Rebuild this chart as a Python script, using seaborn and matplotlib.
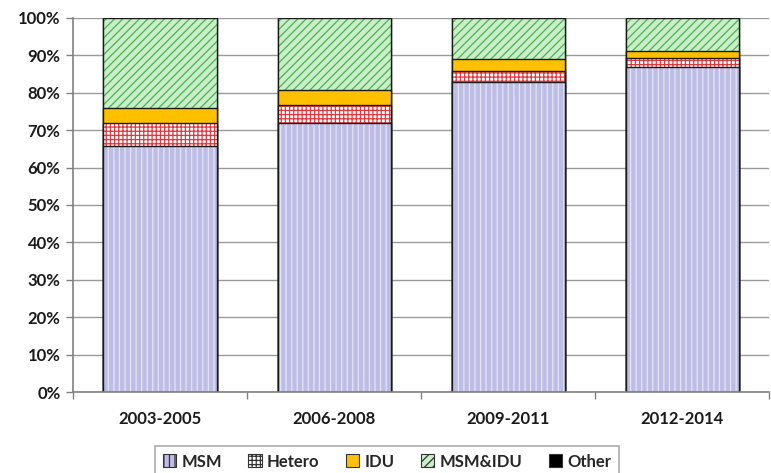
import matplotlib
matplotlib.use("Agg")
import matplotlib.pyplot as plt
from matplotlib.patches import Patch, Rectangle
from matplotlib.ticker import FixedLocator, PercentFormatter
import numpy as np
import pandas as pd
import seaborn as sns

# Datos (porcentajes por periodo)
periods = ["2003-2005", "2006-2008", "2009-2011", "2012-2014"]
msm = [65.7, 72.0, 82.8, 87.0]
hetero = [6.2, 4.8, 3.0, 2.2]
idu = [4.0, 4.0, 3.1, 2.0]
msm_idu = [24.1, 19.2, 11.1, 8.8]
other = [0.0, 0.0, 0.0, 0.0]

groups = ["MSM", "Hetero", "IDU", "MSM&IDU", "Other"]
# (relleno, color de trama, trama)
styles = {
    "MSM": ("#BDBDE6", "#E4E4F6", "|||"),
    "Hetero": ("#FFFFFF", "#E0383C", "++++"),
    "IDU": ("#FFC000", "#FFC000", ""),
    "MSM&IDU": ("#C9EFC9", "#4FAE55", "////"),
    "Other": ("#000000", "#000000", ""),
}

sns.set_theme(style="white")
plt.rcParams["font.family"] = ["Lato", "DejaVu Sans"]
plt.rcParams["font.weight"] = "bold"
plt.rcParams["hatch.linewidth"] = 0.9

df = pd.DataFrame({"period": periods, "MSM": msm, "Hetero": hetero,
                   "IDU": idu, "MSM&IDU": msm_idu, "Other": other})
cum = df[groups].cumsum(axis=1)
cum["period"] = df["period"]

fig = plt.figure(figsize=(7.71, 4.73), dpi=100)
ax = fig.add_axes([0.0947, 0.1712, 0.9033, 0.7908])

# Capas apiladas: de arriba hacia abajo para que cada una tape a la anterior
for g in reversed(groups):
    face, hcol, hatch = styles[g]
    n0 = len(ax.patches)
    sns.barplot(data=cum, x="period", y=g, color=face, saturation=1,
                width=0.65, linewidth=0, edgecolor=hcol, hatch=hatch,
                ax=ax, zorder=2)
    for p in ax.patches[n0:n0 + len(periods)]:
        ax.add_patch(Rectangle(p.get_xy(), p.get_width(), p.get_height(),
                               fill=False, edgecolor="#1a1a1a", linewidth=1.0,
                               zorder=2))

ax.set_xlim(-0.5, 3.5)
ax.set_ylim(0, 100)
ax.yaxis.set_major_locator(FixedLocator(np.arange(0, 101, 10)))
ax.yaxis.set_major_formatter(PercentFormatter(decimals=0))
ax.grid(axis="y", color="#9a9a9a", linewidth=1.0, zorder=0)
ax.set_axisbelow(True)
ax.set_xlabel("")
ax.set_ylabel("")

for s in ["top", "right"]:
    ax.spines[s].set_visible(False)
for s in ["left", "bottom"]:
    ax.spines[s].set_color("#808080")
    ax.spines[s].set_linewidth(1.2)

ax.tick_params(axis="y", which="major", length=5, width=1, color="#808080",
               direction="out", labelsize=12, pad=4, left=True)
ax.tick_params(axis="x", which="major", length=0, labelsize=12, pad=14)
ax.set_xticks(np.arange(-0.5, 3.6, 1), minor=True)
ax.tick_params(axis="x", which="minor", length=5, width=1, color="#808080",
               direction="out", bottom=True)
for lab in ax.get_xticklabels() + ax.get_yticklabels():
    lab.set_fontweight("bold")
    lab.set_color("#1a1a1a")

handles = []
for g in groups:
    face, hcol, hatch = styles[g]
    handles.append(Patch(facecolor=face, edgecolor="#333333", hatch=hatch,
                         linewidth=0.8, label=g))
leg = fig.legend(handles=handles, loc="upper center", ncol=5,
                 bbox_to_anchor=(0.502, 0.057), borderaxespad=0,
                 frameon=True, fancybox=False,
                 prop={"weight": "bold", "size": 12}, handlelength=0.8,
                 handleheight=0.8, handletextpad=0.3, columnspacing=1.6,
                 borderpad=0.45)
leg.get_frame().set_edgecolor("#9a9a9a")
leg.get_frame().set_linewidth(1.2)

fig.savefig("out.png", dpi=100)
